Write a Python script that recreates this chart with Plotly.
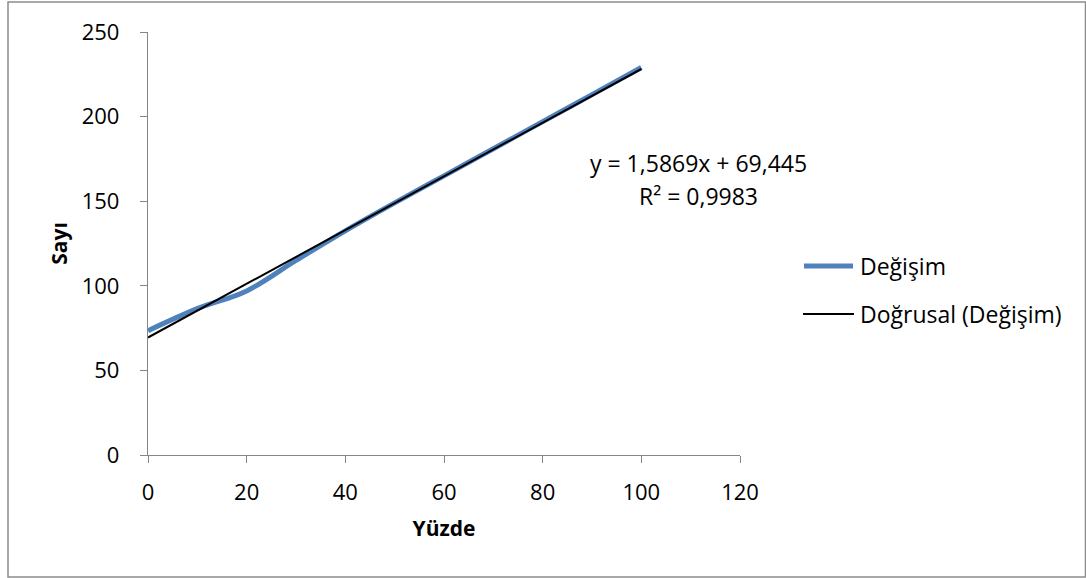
import plotly.graph_objects as go

# Percentage (x) and count (y) for the "Değişim" series
yuzde = [0, 10, 20, 30, 40, 50, 60, 70, 80, 90, 100]
sayi = [73.5, 86.5, 97, 115, 132.5, 149, 165, 181, 197, 213, 229]

# Linear trendline coefficients shown on the chart
egim = 1.5869
kesisim = 69.445
r2 = 0.9983

x_ticks = [0, 20, 40, 60, 80, 100, 120]
y_ticks = [0, 50, 100, 150, 200, 250]

FONT = "Open Sans"
AXIS_COLOR = "#868686"
BLUE = "#4F81BD"

W, H = 1086, 578
L, R, T, B = 148, 346, 32, 123
PW, PH = W - L - R, H - T - B


def px(xpix):
    return (xpix - L) / PW


def py(ypix):
    return (H - B - ypix) / PH


def fmt(v, nd):
    return f"{v:.{nd}f}".replace(".", ",")


fig = go.Figure()

fig.add_trace(go.Scatter(
    x=yuzde, y=sayi, mode="lines", name="Değişim",
    line=dict(color=BLUE, width=5, shape="spline", smoothing=1.0),
    showlegend=False,
))

trend_x = [min(yuzde), max(yuzde)]
trend_y = [egim * v + kesisim for v in trend_x]
fig.add_trace(go.Scatter(
    x=trend_x, y=trend_y, mode="lines", name="Doğrusal (Değişim)",
    line=dict(color="black", width=2), showlegend=False,
))

axis_common = dict(
    showgrid=False, zeroline=False, showline=True, linecolor=AXIS_COLOR,
    linewidth=1.3, ticks="outside", ticklen=7, tickcolor=AXIS_COLOR,
    tickwidth=1.3, tickfont=dict(family=FONT, size=22, color="black"),
)

fig.update_xaxes(
    range=[0, 120], tickvals=x_ticks, ticklabelstandoff=10,
    title=dict(text="<b>Yüzde</b>", font=dict(family=FONT, size=21, color="black"), standoff=16),
    **axis_common,
)
fig.update_yaxes(
    range=[0, 250], tickvals=y_ticks, ticklabelstandoff=16,
    title=dict(text="<b>Sayı</b>", font=dict(family=FONT, size=21, color="black"), standoff=8),
    **axis_common,
)

shapes = [
    # outer chart border
    dict(type="rect", xref="paper", yref="paper",
         x0=px(8), x1=px(1085.5), y0=py(577), y1=py(2),
         line=dict(color="#8c8c8c", width=1.5), fillcolor="rgba(0,0,0,0)", layer="below"),
    # legend keys
    dict(type="line", xref="paper", yref="paper",
         x0=px(804), x1=px(853), y0=py(266), y1=py(266),
         line=dict(color=BLUE, width=5)),
    dict(type="line", xref="paper", yref="paper",
         x0=px(803), x1=px(854), y0=py(314), y1=py(314),
         line=dict(color="black", width=2)),
]

TXT = dict(family=FONT, size=23, color="black")
annotations = [
    dict(xref="paper", yref="paper", x=px(858), y=py(266), text="Değişim",
         showarrow=False, xanchor="left", yanchor="middle", font=TXT),
    dict(xref="paper", yref="paper", x=px(858), y=py(314), text="Doğrusal (Değişim)",
         showarrow=False, xanchor="left", yanchor="middle", font=TXT),
    dict(xref="paper", yref="paper", x=px(698), y=py(163),
         text=f"y = {fmt(egim, 4)}x + {fmt(kesisim, 3)}",
         showarrow=False, xanchor="center", yanchor="middle", font=TXT),
    dict(xref="paper", yref="paper", x=px(698), y=py(196),
         text=f"R² = {fmt(r2, 4)}",
         showarrow=False, xanchor="center", yanchor="middle", font=TXT),
]

fig.update_layout(
    width=W, height=H, autosize=False,
    margin=dict(l=L, r=R, t=T, b=B),
    paper_bgcolor="white", plot_bgcolor="white",
    showlegend=False, shapes=shapes, annotations=annotations,
    font=dict(family=FONT, color="black"),
)

fig.write_html("out.html", config={"displayModeBar": False})
